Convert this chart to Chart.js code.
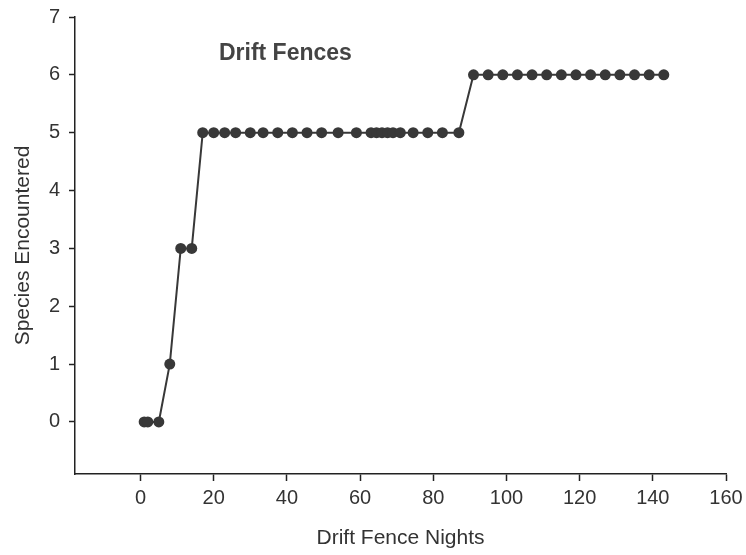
<!DOCTYPE html>
<html>
<head>
<meta charset="utf-8">
<script src="https://cdn.jsdelivr.net/npm/chart.js@4/dist/chart.umd.min.js"></script>
<style>
  html, body { margin: 0; padding: 0; background: #fff; }
  #wrap { width: 746px; height: 555px; }
</style>
</head>
<body>
<div id="wrap"><canvas id="chart" width="746" height="555"></canvas></div>
<script>
// Nächte (x) und kumulative Artenzahl (y)
const naechte = [1, 2, 5, 8, 11, 14,
  17, 20, 23, 26, 30, 33.5, 37.5, 41.5, 45.5, 49.5, 54, 59, 63, 64.5, 66, 67.5, 69, 71, 74.5, 78.5, 82.5, 87,
  91, 95, 99, 103, 107, 111, 115, 119, 123, 127, 131, 135, 139, 143];
const arten = [0, 0, 0, 1, 3, 3,
  5, 5, 5, 5, 5, 5, 5, 5, 5, 5, 5, 5, 5, 5, 5, 5, 5, 5, 5, 5, 5, 5,
  6, 6, 6, 6, 6, 6, 6, 6, 6, 6, 6, 6, 6, 6];
const xTicks = [0, 20, 40, 60, 80, 100, 120, 140, 160];
const yTicks = [0, 1, 2, 3, 4, 5, 6, 7];

const titel = 'Drift Fences';
const xTitel = 'Drift Fence Nights';
const yTitel = 'Species Encountered';

const farbe = '#383838';
const achse = '#222';
const schrift = "'Liberation Sans', Arial, sans-serif";

// Titel im Plotbereich zeichnen
const titelPlugin = {
  id: 'titelImPlot',
  afterDraw(chart) {
    const { ctx, scales } = chart;
    ctx.save();
    ctx.font = `bold 23px ${schrift}`;
    ctx.fillStyle = '#444';
    ctx.textAlign = 'center';
    ctx.textBaseline = 'middle';
    ctx.fillText(titel, scales.x.getPixelForValue(39.6), scales.y.getPixelForValue(6.36));
    ctx.restore();
  }
};

const punkte = naechte.map((x, i) => ({ x, y: arten[i] }));

new Chart(document.getElementById('chart'), {
  type: 'scatter',
  data: {
    datasets: [{
      data: punkte,
      showLine: true,
      borderColor: farbe,
      borderWidth: 2,
      backgroundColor: farbe,
      pointBackgroundColor: farbe,
      pointBorderColor: farbe,
      pointRadius: 5.5,
      pointBorderWidth: 0,
      tension: 0
    }]
  },
  options: {
    responsive: false,
    animation: false,
    layout: { padding: { left: 0, right: 20, top: 17, bottom: 0 } },
    plugins: { legend: { display: false }, tooltip: { enabled: false } },
    scales: {
      x: {
        type: 'linear',
        min: -17.9,
        max: 160,
        afterBuildTicks: (s) => { s.ticks = xTicks.map(v => ({ value: v })); },
        afterFit: (s) => { s.height = 81; s.paddingLeft = 0; s.paddingRight = 0; },
        grid: { display: true, drawOnChartArea: false, drawTicks: true, tickLength: 7, tickColor: achse, tickWidth: 1.5 },
        border: { display: true, color: achse, width: 1.5 },
        ticks: { color: '#333', font: { family: schrift, size: 20 }, padding: 5, maxRotation: 0, autoSkip: false },
        title: { display: true, text: xTitel, color: '#333', font: { family: schrift, size: 21 }, padding: { top: 10, bottom: 4 } }
      },
      y: {
        type: 'linear',
        min: -0.9,
        max: 7,
        afterBuildTicks: (s) => { s.ticks = yTicks.map(v => ({ value: v })); },
        afterFit: (s) => { s.width = 75; s.paddingTop = 0; s.paddingBottom = 0; },
        grid: { display: true, drawOnChartArea: false, drawTicks: true, tickLength: 6, tickColor: achse, tickWidth: 1.5 },
        border: { display: true, color: achse, width: 1.5 },
        ticks: { color: '#333', font: { family: schrift, size: 20 }, padding: 9, autoSkip: false },
        title: { display: true, text: yTitel, color: '#333', font: { family: schrift, size: 21 }, padding: { top: 11, bottom: 4 } }
      }
    }
  },
  plugins: [titelPlugin]
});
</script>
</body>
</html>
